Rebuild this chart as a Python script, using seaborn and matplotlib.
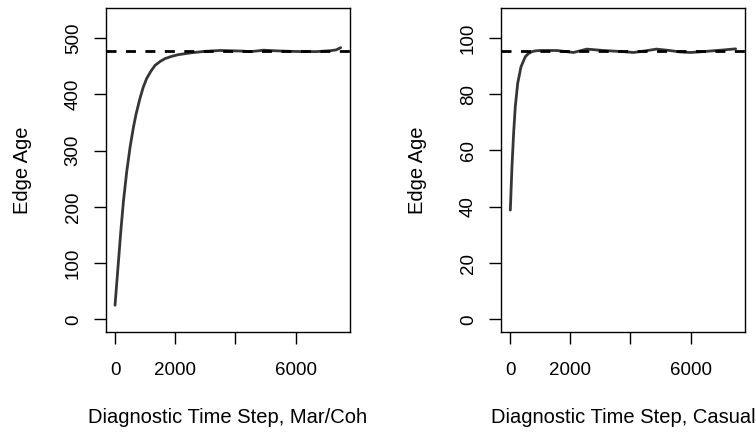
import numpy as np
import pandas as pd
import matplotlib
matplotlib.use("Agg")
import matplotlib.pyplot as plt
import seaborn as sns

# datos
t_mc = [0, 110, 190, 280, 390, 500, 610, 700, 830, 940, 1050, 1190, 1330, 1500,
        1660, 1880, 2100, 2550, 3000, 3500, 3820, 4200, 4480, 4700, 4930, 5300,
        5800, 6200, 6700, 7140, 7350, 7500]
age_mc = [25, 100, 155, 210, 263, 306, 341, 365, 393, 413, 428, 441, 451.5, 458.5,
          463.5, 467.5, 470.5, 474, 476.5, 478, 477.5, 477, 476, 477, 478.5, 477.5,
          476.5, 476, 476, 477.5, 479, 483]
target_mc = 476.5

t_cas = [0, 55, 110, 165, 245, 355, 500, 600, 720, 850, 1000, 1550, 2100, 2550,
         3100, 3750, 4100, 4450, 4870, 5300, 5650, 6000, 6400, 7100, 7500]
age_cas = [38.8, 54.2, 66.1, 75.5, 83.8, 89.7, 93.3, 94.4, 95.1, 95.4, 95.5, 95.5,
           94.8, 96.0, 95.5, 95.1, 94.8, 95.3, 96.0, 95.5, 95.0, 94.8, 95.1, 95.7,
           96.1]
target_cas = 95.4

x_ticks = [0, 2000, 4000, 6000]
x_ticklabels = ['0', '2000', '', '6000']
y_ticks_mc = [0, 100, 200, 300, 400, 500]
y_ticks_cas = [0, 20, 40, 60, 80, 100]
xlabels = ['Diagnostic Time Step, Mar/Coh', 'Diagnostic Time Step, Casual']

sns.set_theme(style='ticks')
plt.rcParams['font.family'] = ['Liberation Sans', 'DejaVu Sans']
plt.rcParams['font.size'] = 13.5
plt.rcParams['text.color'] = 'black'
plt.rcParams['axes.labelcolor'] = 'black'

fig = plt.figure(figsize=(7.56, 4.32), dpi=100)
ax1 = fig.add_axes([0.1398, 0.2322, 0.3232, 0.7486])
ax2 = fig.add_axes([0.6627, 0.2322, 0.3227, 0.7486])

paneles = [
    (ax1, t_mc, age_mc, target_mc, y_ticks_mc, (-22, 553), xlabels[0]),
    (ax2, t_cas, age_cas, target_cas, y_ticks_cas, (-4.4, 110.5), xlabels[1]),
]

for ax, t, age, target, yt, ylim, xlab in paneles:
    df = pd.DataFrame({'t': t, 'age': age})
    sns.lineplot(data=df, x='t', y='age', ax=ax, color='#363636', linewidth=2,
                 solid_joinstyle='round', solid_capstyle='round')
    ax.axhline(target, color='black', linewidth=2, linestyle=(0, (3.6, 3.4)))
    ax.set_xlim(-310, 7810)
    ax.set_ylim(*ylim)
    ax.set_xticks(x_ticks)
    ax.set_xticklabels(x_ticklabels)
    ax.set_yticks(yt)
    ax.set_yticklabels([str(v) for v in yt], rotation=90, va='center')
    ax.tick_params(axis='both', direction='out', length=8.5, width=1,
                   color='black', labelsize=13.5, labelcolor='black')
    ax.tick_params(axis='x', pad=13.5)
    ax.tick_params(axis='y', pad=8.7)
    for s in ax.spines.values():
        s.set_visible(True)
        s.set_linewidth(1)
        s.set_color('black')
    ax.set_xlabel(xlab, fontsize=14.5, labelpad=21, color='black')
    ax.set_ylabel('Edge Age', fontsize=14.5, labelpad=23.8, color='black')
    ax.grid(False)

plt.savefig('out.png', dpi=100)
